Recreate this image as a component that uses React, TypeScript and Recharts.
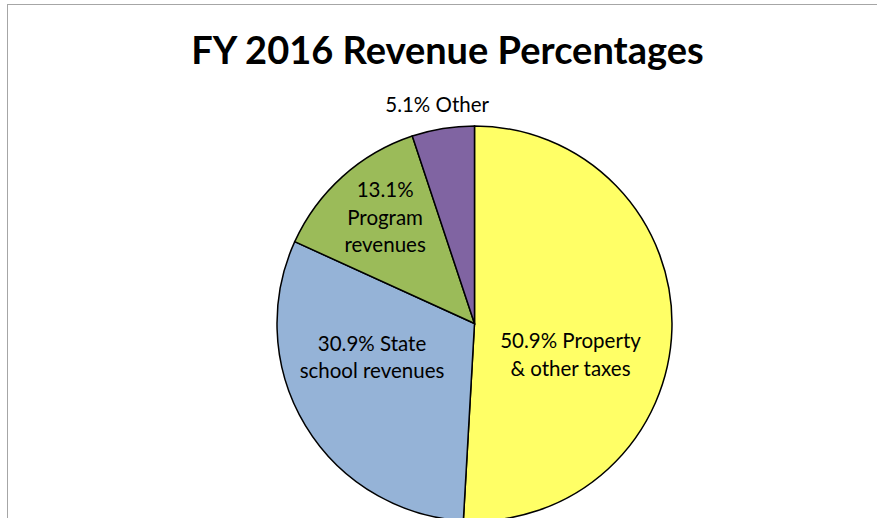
import React from 'react';
import { PieChart, Pie, Cell } from 'recharts';

const CATEGORIES = ['Property & other taxes', 'State school revenues', 'Program revenues', 'Other'];
const PERCENTS = [50.9, 30.9, 13.1, 5.1];
const LABEL_LINES = [
  ['50.9% Property', '& other taxes'],
  ['30.9% State', 'school revenues'],
  ['13.1%', 'Program', 'revenues'],
  ['5.1% Other'],
];
const COLORS = ['#FFFF66', '#95B3D7', '#9BBB59', '#8064A2'];

// label placement: fraction of radius, angle shift (deg) from the slice middle
const LABEL_POS = [
  { r: 0.51, shift: -16 },
  { r: 0.545, shift: -13.3 },
  { r: 0.705, shift: -2 },
  { r: 1.125, shift: 0.5 },
];

const FONT = 'Lato, "Open Sans", sans-serif';
const RAD = Math.PI / 180;

const data = CATEGORIES.map((name, i) => ({ name, value: PERCENTS[i] }));

const renderLabel = (props: any) => {
  const { cx, cy, midAngle, outerRadius, index } = props;
  const pos = LABEL_POS[index];
  const a = (midAngle + pos.shift) * RAD;
  const x = cx + outerRadius * pos.r * Math.cos(a);
  const y = cy - outerRadius * pos.r * Math.sin(a);
  const lines = LABEL_LINES[index];
  const lh = 27.5;
  const y0 = y - ((lines.length - 1) * lh) / 2;
  return (
    <text
      x={x}
      y={y0}
      textAnchor="middle"
      dominantBaseline="central"
      fill="#000"
      fontSize={20.5}
      fontFamily={FONT}
    >
      {lines.map((l, k) => (
        <tspan key={k} x={x} y={y0 + k * lh}>
          {l}
        </tspan>
      ))}
    </text>
  );
};

export default function App() {
  return (
    <div style={{ position: 'absolute', left: 0, top: 0, width: 877, height: 518, overflow: 'hidden', background: '#fff' }}>
      <div
        style={{
          position: 'absolute',
          left: 7,
          top: 4,
          width: 900,
          height: 600,
          border: '1px solid #a6a6a6',
        }}
      />
      <div
        style={{
          position: 'absolute',
          left: 0,
          top: 24,
          width: 895,
          textAlign: 'center',
          fontFamily: FONT,
          fontWeight: 700,
          fontSize: 38,
          lineHeight: '50px',
          color: '#000',
        }}
      >
        FY 2016 Revenue Percentages
      </div>
      <div style={{ position: 'absolute', left: 0, top: 0 }}>
        <PieChart width={877} height={518} margin={{ top: 0, right: 0, bottom: 0, left: 0 }}>
          <Pie
            data={data}
            dataKey="value"
            nameKey="name"
            cx={474.5}
            cy={323.5}
            outerRadius={197.5}
            startAngle={90}
            endAngle={-270}
            stroke="#000"
            strokeWidth={1.5}
            labelLine={false}
            label={renderLabel}
            isAnimationActive={false}
          >
            {data.map((d, i) => (
              <Cell key={d.name} fill={COLORS[i]} />
            ))}
          </Pie>
        </PieChart>
      </div>
    </div>
  );
}
